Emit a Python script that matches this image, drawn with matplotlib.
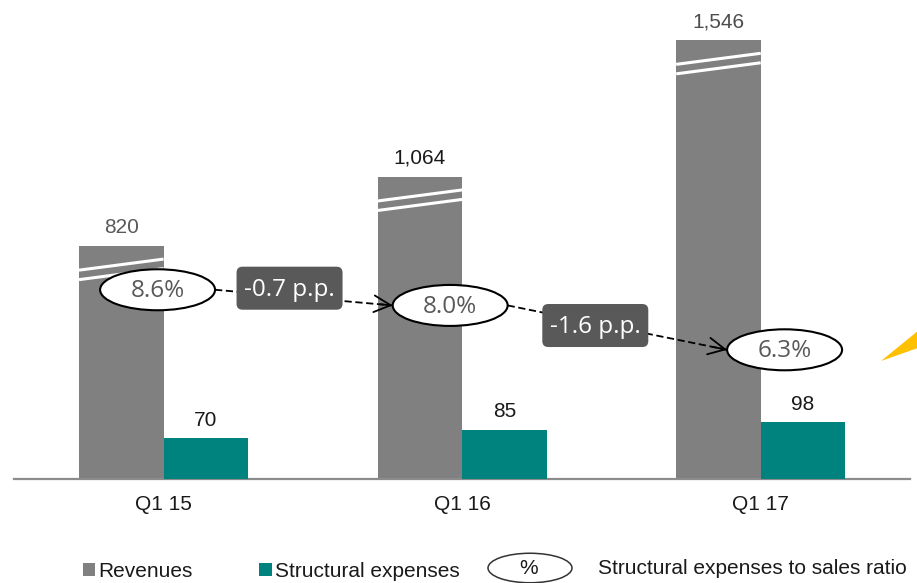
import matplotlib.pyplot as plt
import numpy as np
from matplotlib.patches import Ellipse, FancyBboxPatch, Polygon, Rectangle

plt.rcParams['font.family'] = ['Liberation Sans', 'DejaVu Sans']

quarters = ['Q1 15', 'Q1 16', 'Q1 17']
revenues = [820, 1064, 1546]
structural_expenses = [70, 85, 98]
expense_ratio = [8.6, 8.0, 6.3]
ratio_change = ['-0.7 p.p.', '-1.6 p.p.']

GREY = '#808080'
TEAL = '#00827f'
DARK = '#595959'

W, H = 917, 583
fig = plt.figure(figsize=(W / 100, H / 100), dpi=100)
ax = fig.add_axes([14.25 / W, 104.5 / H, 895.75 / W, 478.5 / H])
ax2 = ax.twinx()   # expenses scale
ax3 = ax.twinx()   # ratio scale for the ellipses / arrows

x = np.arange(len(quarters))
w = 0.283

ax.set_xlim(-0.5, 2.5)
ax.set_ylim(0, 1688)
ax2.set_ylim(0, 833.6)
ax3.set_ylim(1.37, 19.7)

ax.bar(x - w / 2, revenues, w, color=GREY, zorder=2)
ax2.bar(x + w / 2, structural_expenses, w, color=TEAL, zorder=2)

# broken-axis marks across the revenue bars
for xi, v in zip(x, revenues):
    for k in (0, 1):
        ax.plot([xi - w, xi], [v - 85 - 33.5 * k, v - 46 - 33.5 * k],
                color='white', lw=2.2, solid_capstyle='butt', zorder=3)

rev_colors = [DARK, '#1a1a1a', '#4d4d4d']
for xi, v, c in zip(x, revenues, rev_colors):
    ax.annotate(f'{v:,}', (xi - w / 2, v), xytext=(0, 9.5), textcoords='offset points',
                ha='center', va='baseline', fontsize=15, color=c)
for xi, v in zip(x, structural_expenses):
    ax2.annotate(f'{v}', (xi + w / 2, v), xytext=(0, 9), textcoords='offset points',
                 ha='center', va='baseline', fontsize=15, color='#1a1a1a')

for a in (ax, ax2, ax3):
    for s in a.spines.values():
        s.set_visible(False)
    a.set_yticks([])
ax.spines['bottom'].set_visible(True)
ax.spines['bottom'].set_color('#8c8c8c')
ax.spines['bottom'].set_linewidth(1.6)
ax.set_xticks(x, quarters)
ax.tick_params(axis='x', length=0, pad=12, labelsize=15, labelcolor='#1a1a1a')

# ratio ellipses joined by dashed arrows
ell_x = x + np.array([-0.02, -0.04, 0.08])
ew, eh = 0.385, 1.57
for xc, r in zip(ell_x, expense_ratio):
    ax3.add_patch(Ellipse((xc, r), ew, eh, fc='white', ec='black', lw=1.5, zorder=4))
    ax3.text(xc, r - 0.05, f'{r:.1f}%', ha='center', va='center', family='Open Sans',
             fontsize=17.5, color=DARK, zorder=5)

for i in range(len(expense_ratio) - 1):
    x0, y0 = ell_x[i] + ew / 2, expense_ratio[i]
    x1, y1 = ell_x[i + 1] - ew / 2, expense_ratio[i + 1]
    ax3.plot([x0, x1], [y0, y1], ls=(0, (4, 2)), color='black', lw=1.3, zorder=2)
    t = 0.93
    ax3.annotate('', xy=(x1, y1), xytext=(x0 + t * (x1 - x0), y0 + t * (y1 - y0)),
                 arrowprops=dict(arrowstyle='->,head_length=0.6,head_width=0.3',
                                 color='black', lw=1.3, shrinkA=0, shrinkB=0,
                                 mutation_scale=20), zorder=3)

box_pos = [(0.422, 8.66), (1.446, 7.23)]
bw, bh = 0.355, 1.648
for (cx, cy), lab in zip(box_pos, ratio_change):
    ax3.add_patch(FancyBboxPatch((cx - bw / 2, cy - bh / 2), bw, bh,
                                 boxstyle='round,pad=0,rounding_size=0.02',
                                 mutation_aspect=11.44, fc=DARK, ec='none', zorder=3))
    ax3.text(cx, cy - 0.05, lab, ha='center', va='center', family='Open Sans',
             fontsize=17.5, color='white', zorder=4)

# orange pointer cut at the right edge
fig.add_artist(Polygon([[881 / W, 1 - 361 / H], [1, 1 - 331.7 / H], [1, 1 - 348.3 / H]],
                       closed=True, transform=fig.transFigure, fc='#ffc000', ec='none'))

# legend
fig.add_artist(Rectangle((83.3 / W, 1 - 575.7 / H), 11.7 / W, 12.4 / H,
                         transform=fig.transFigure, fc=GREY, ec='none'))
fig.text(98 / W, 1 - 577.3 / H, 'Revenues', fontsize=15, va='baseline', color='#1a1a1a')
fig.add_artist(Rectangle((259.3 / W, 1 - 575.7 / H), 12.4 / W, 12.4 / H,
                         transform=fig.transFigure, fc=TEAL, ec='none'))
fig.text(275 / W, 1 - 577.3 / H, 'Structural expenses', fontsize=15, va='baseline',
         color='#1a1a1a')
fig.add_artist(Ellipse((530 / W, 1 - 568 / H), 84 / W, 29.5 / H, transform=fig.transFigure,
                       fc='white', ec='#333333', lw=1.1))
fig.text(528.5 / W, 1 - 574.5 / H, '%', fontsize=15, ha='center', va='baseline',
         color='#1a1a1a')
fig.text(598 / W, 1 - 574.5 / H, 'Structural expenses to sales ratio', fontsize=15,
         va='baseline', color='#1a1a1a')

fig.savefig('out.png', dpi=100)
